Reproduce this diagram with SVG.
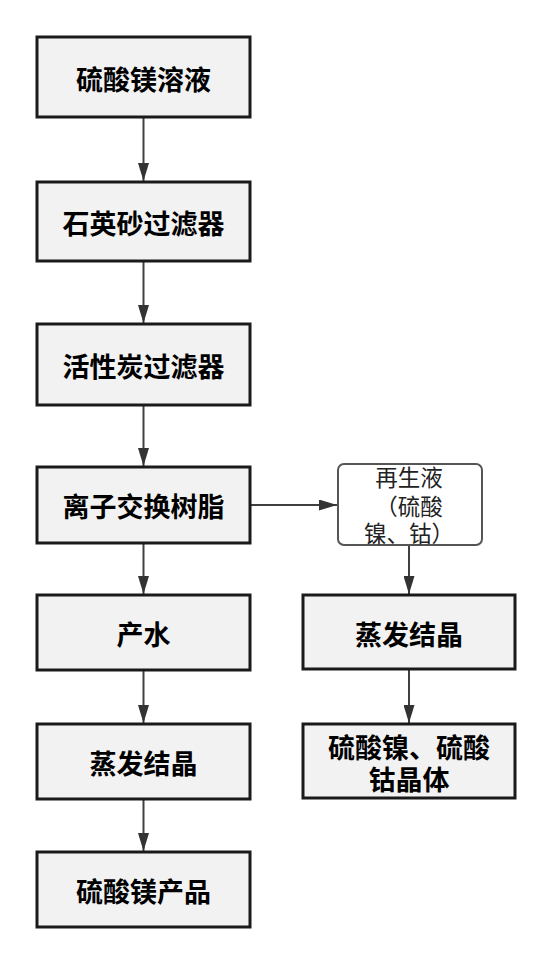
<svg xmlns="http://www.w3.org/2000/svg" width="552" height="963" viewBox="0 0 552 963">
<defs>
<style>
.box{fill:#f2f2f2;stroke:#1a1a1a;stroke-width:3}
.rbox{fill:#ffffff;stroke:#555555;stroke-width:2}
.t{font-family:"Noto Sans CJK SC","Noto Sans",sans-serif;font-size:27px;font-weight:700;fill:#000;text-anchor:middle;dominant-baseline:central}
.s{font-family:"Noto Sans CJK SC","Noto Sans",sans-serif;font-size:22.5px;font-weight:400;fill:#222;text-anchor:middle;dominant-baseline:central}
.c{stroke:#404040;stroke-width:2;fill:none;marker-end:url(#ah)}
</style>
<marker id="ah" markerWidth="18" markerHeight="11" refX="18" refY="5.5" orient="auto" markerUnits="userSpaceOnUse">
<path d="M0,0 L18,5.5 L0,11 Z" fill="#333333"/>
</marker>
</defs>
<rect width="552" height="963" fill="#ffffff"/>
<g id="connectors">
<line class="c" x1="143.5" y1="118" x2="143.5" y2="181"/>
<line class="c" x1="143.5" y1="262" x2="143.5" y2="323"/>
<line class="c" x1="143.5" y1="406" x2="143.5" y2="466"/>
<line class="c" x1="143.5" y1="544" x2="143.5" y2="594"/>
<line class="c" x1="143.5" y1="671" x2="143.5" y2="723"/>
<line class="c" x1="143.5" y1="800" x2="143.5" y2="851"/>
<line class="c" x1="251" y1="505" x2="337" y2="505"/>
<line class="c" x1="409" y1="546" x2="409" y2="594"/>
<line class="c" x1="409" y1="670" x2="409" y2="723"/>
</g>
<g id="n1"><rect class="box" x="37" y="37" width="213" height="80"/><text class="t" x="143.5" y="78">硫酸镁溶液</text></g>
<g id="n2"><rect class="box" x="37" y="182" width="213" height="79"/><text class="t" x="143.5" y="222">石英砂过滤器</text></g>
<g id="n3"><rect class="box" x="37" y="324" width="213" height="81"/><text class="t" x="143.5" y="365">活性炭过滤器</text></g>
<g id="n4"><rect class="box" x="37" y="467" width="213" height="76"/><text class="t" x="143.5" y="505">离子交换树脂</text></g>
<g id="n5"><rect class="box" x="37" y="595" width="213" height="75"/><text class="t" x="143.5" y="633">产水</text></g>
<g id="n6"><rect class="box" x="37" y="724" width="213" height="75"/><text class="t" x="143.5" y="762">蒸发结晶</text></g>
<g id="n7"><rect class="box" x="37" y="852" width="213" height="75"/><text class="t" x="143.5" y="890">硫酸镁产品</text></g>
<g id="r1"><rect class="rbox" x="338" y="464" width="144" height="81" rx="6"/><text class="s"><tspan x="409" y="476">再生液</tspan><tspan x="409" y="505">（硫酸</tspan><tspan x="409" y="532">镍、钴）</tspan></text></g>
<g id="r2"><rect class="box" x="303" y="595" width="212" height="74"/><text class="t" x="409" y="633">蒸发结晶</text></g>
<g id="r3"><rect class="box" x="303" y="724" width="212" height="74"/><text class="t"><tspan x="409" y="746">硫酸镍、硫酸</tspan><tspan x="409" y="778">钴晶体</tspan></text></g>
</svg>
